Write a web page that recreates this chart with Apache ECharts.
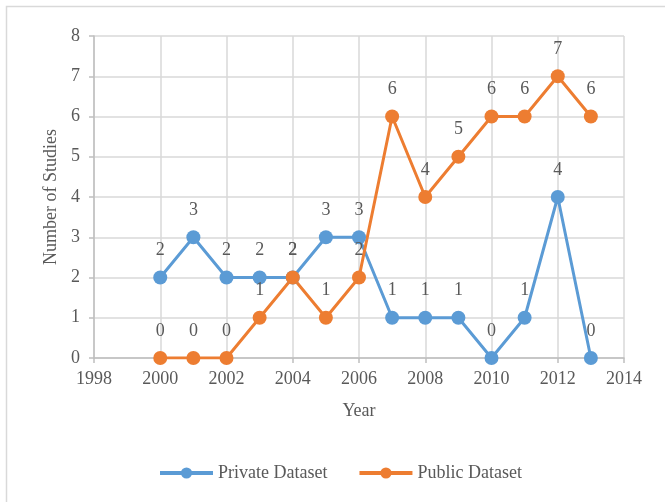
<!DOCTYPE html>
<html>
<head>
<meta charset="utf-8">
<script src="https://cdn.jsdelivr.net/npm/echarts@6/dist/echarts.min.js"></script>
<style>
  html, body { margin: 0; padding: 0; background: #fff; }
  #chart { width: 665px; height: 502px; }
</style>
</head>
<body>
<div id="chart"></div>
<script>
// Studies per year, split by dataset type
const years = [2000, 2001, 2002, 2003, 2004, 2005, 2006, 2007, 2008, 2009, 2010, 2011, 2012, 2013];
const privateStudies = [2, 3, 2, 2, 2, 3, 3, 1, 1, 1, 0, 1, 4, 0];
const publicStudies = [0, 0, 0, 1, 2, 1, 2, 6, 4, 5, 6, 6, 7, 6];
const seriesNames = ['Private Dataset', 'Public Dataset'];
const seriesColors = ['#5b9bd5', '#ed7d31'];

const font = '"Liberation Serif", "Times New Roman", serif';
const textColor = '#595959';
const fontSize = 18;

function pairs(values) {
  return years.map((y, i) => [y, values[i]]);
}

function lineSeries(name, values, color) {
  return {
    name: name,
    type: 'line',
    data: pairs(values),
    symbol: 'circle',
    symbolSize: 14,
    lineStyle: { width: 3, color: color },
    itemStyle: { color: color },
    label: {
      show: true,
      position: 'top',
      distance: 11,
      fontFamily: font,
      fontSize: fontSize,
      color: textColor
    },
    emphasis: { disabled: true },
    animation: false
  };
}

const chart = echarts.init(document.getElementById('chart'), null, { renderer: 'canvas' });
chart.setOption({
  backgroundColor: '#fff',
  textStyle: { fontFamily: font },
  graphic: [{
    type: 'rect',
    shape: { x: 6.5, y: 6.5, width: 700, height: 520 },
    style: { fill: 'none', stroke: '#d9d9d9', lineWidth: 1.5 },
    silent: true
  }],
  grid: { left: 94, right: 41, top: 36, bottom: 144, containLabel: false },
  xAxis: {
    type: 'value',
    min: 1998,
    max: 2014,
    interval: 2,
    name: 'Year',
    nameLocation: 'middle',
    nameGap: 44,
    nameTextStyle: { fontFamily: font, fontSize: fontSize, color: textColor },
    axisLine: { show: true, lineStyle: { color: '#bfbfbf', width: 1.5 } },
    axisTick: { show: true, length: 5, lineStyle: { color: '#bfbfbf', width: 1.5 } },
    axisLabel: {
      fontFamily: font, fontSize: fontSize, color: textColor, margin: 12,
      formatter: v => String(v)
    },
    splitLine: { show: true, lineStyle: { color: '#d9d9d9', width: 1.5 } }
  },
  yAxis: {
    type: 'value',
    min: 0,
    max: 8,
    interval: 1,
    name: 'Number of Studies',
    nameLocation: 'middle',
    nameGap: 32,
    nameTextStyle: { fontFamily: font, fontSize: fontSize, color: textColor },
    axisLine: { show: true, lineStyle: { color: '#bfbfbf', width: 1.5 } },
    axisTick: { show: true, length: 5, lineStyle: { color: '#bfbfbf', width: 1.5 } },
    axisLabel: { fontFamily: font, fontSize: fontSize, color: textColor, margin: 14 },
    splitLine: { show: true, lineStyle: { color: '#d9d9d9', width: 1.5 } }
  },
  legend: {
    top: 459,
    left: 153,
    itemGap: 30,
    itemWidth: 53,
    itemHeight: 14,
    lineStyle: { width: 4 },
    textStyle: { fontFamily: font, fontSize: fontSize, color: textColor },
    data: seriesNames
  },
  series: [
    lineSeries(seriesNames[0], privateStudies, seriesColors[0]),
    lineSeries(seriesNames[1], publicStudies, seriesColors[1])
  ]
});
</script>
</body>
</html>
